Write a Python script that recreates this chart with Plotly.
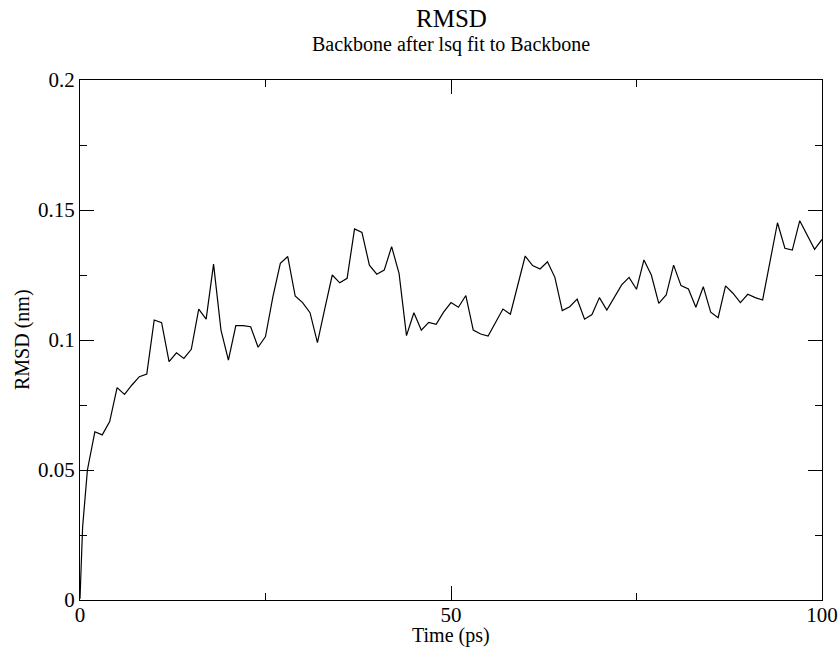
import plotly.graph_objects as go

time_ps = [0, 0.15, 0.35] + list(range(1, 101))
rmsd_nm = [
    0.0005, 0.012, 0.028,
    0.0500, 0.0647, 0.0635, 0.0686, 0.0817, 0.0791, 0.0827, 0.0859, 0.0869, 0.1077,
    0.1067, 0.0917, 0.0951, 0.0929, 0.0964, 0.1119, 0.1080, 0.1292, 0.1038, 0.0923,
    0.1055, 0.1055, 0.1051, 0.0972, 0.1013, 0.1167, 0.1295, 0.1321, 0.1169, 0.1144,
    0.1105, 0.0990, 0.1122, 0.1250, 0.1220, 0.1237, 0.1427, 0.1414, 0.1288, 0.1253,
    0.1269, 0.1359, 0.1256, 0.1017, 0.1105, 0.1038, 0.1068, 0.1060, 0.1107, 0.1144,
    0.1126, 0.1171, 0.1038, 0.1023, 0.1015, 0.1068, 0.1119, 0.1099, 0.1212, 0.1323,
    0.1286, 0.1273, 0.1301, 0.1241, 0.1113, 0.1128, 0.1157, 0.1080, 0.1098, 0.1163,
    0.1115, 0.1163, 0.1212, 0.1241, 0.1195, 0.1308, 0.1250, 0.1141, 0.1173, 0.1288,
    0.1209, 0.1196, 0.1126, 0.1205, 0.1107, 0.1086, 0.1208, 0.1180, 0.1144, 0.1176,
    0.1163, 0.1154, 0.1301, 0.1451, 0.1353, 0.1346, 0.1459, 0.1404, 0.1349, 0.1387,
]

x_ticks = [0, 50, 100]
x_tick_labels = ["0", "50", "100"]
y_ticks = [0, 0.05, 0.1, 0.15, 0.2]
y_tick_labels = ["0", "0.05", "0.1", "0.15", "0.2"]

title_text = "RMSD"
subtitle_text = "Backbone after lsq fit to Backbone"
x_title = "Time (ps)"
y_title = "RMSD (nm)"

FONT = "Liberation Serif, Times New Roman, serif"

fig = go.Figure()
fig.add_trace(go.Scatter(x=time_ps, y=rmsd_nm, mode="lines",
                         line=dict(color="black", width=1.2),
                         hoverinfo="x+y", showlegend=False))

axis_common = dict(
    showline=True, linecolor="black", linewidth=1.2, mirror="ticks",
    ticks="inside", ticklen=14, tickwidth=1.2, tickcolor="black",
    showgrid=False, zeroline=False,
    tickfont=dict(family=FONT, size=21, color="black"),
)

fig.update_xaxes(range=[0, 100], tickmode="array", tickvals=x_ticks,
                 ticktext=x_tick_labels, ticklabelstandoff=-4,
                 minor=dict(ticks="inside", ticklen=7, tickwidth=1.2,
                            tickcolor="black", dtick=25, tick0=0, showgrid=False),
                 **axis_common)
fig.update_yaxes(range=[0, 0.2], tickmode="array", tickvals=y_ticks,
                 ticktext=y_tick_labels,
                 minor=dict(ticks="inside", ticklen=7, tickwidth=1.2,
                            tickcolor="black", dtick=0.025, tick0=0, showgrid=False),
                 **axis_common)

fig.update_layout(
    width=839, height=647,
    margin=dict(l=80, r=17, t=80, b=47, autoexpand=False),
    paper_bgcolor="white", plot_bgcolor="white",
    font=dict(family=FONT, color="black"),
    annotations=[
        dict(text=title_text, xref="paper", yref="paper", x=0.5, y=1,
             yanchor="middle", yshift=62, showarrow=False,
             font=dict(family=FONT, size=25, color="black")),
        dict(text=subtitle_text, xref="paper", yref="paper", x=0.5, y=1,
             yanchor="middle", yshift=36, showarrow=False,
             font=dict(family=FONT, size=20, color="black")),
        dict(text=x_title, xref="paper", yref="paper", x=0.5, y=0,
             yanchor="middle", yshift=-35, showarrow=False,
             font=dict(family=FONT, size=20, color="black")),
        dict(text=y_title, xref="paper", yref="paper", x=0, y=0.5,
             xanchor="center", xshift=-58, textangle=-90, showarrow=False,
             font=dict(family=FONT, size=20, color="black")),
    ],
)

fig.write_html(
    "out.html",
    config={"displayModeBar": False},
    post_script="document.body.style.margin='0';document.body.style.overflow='hidden';",
)
